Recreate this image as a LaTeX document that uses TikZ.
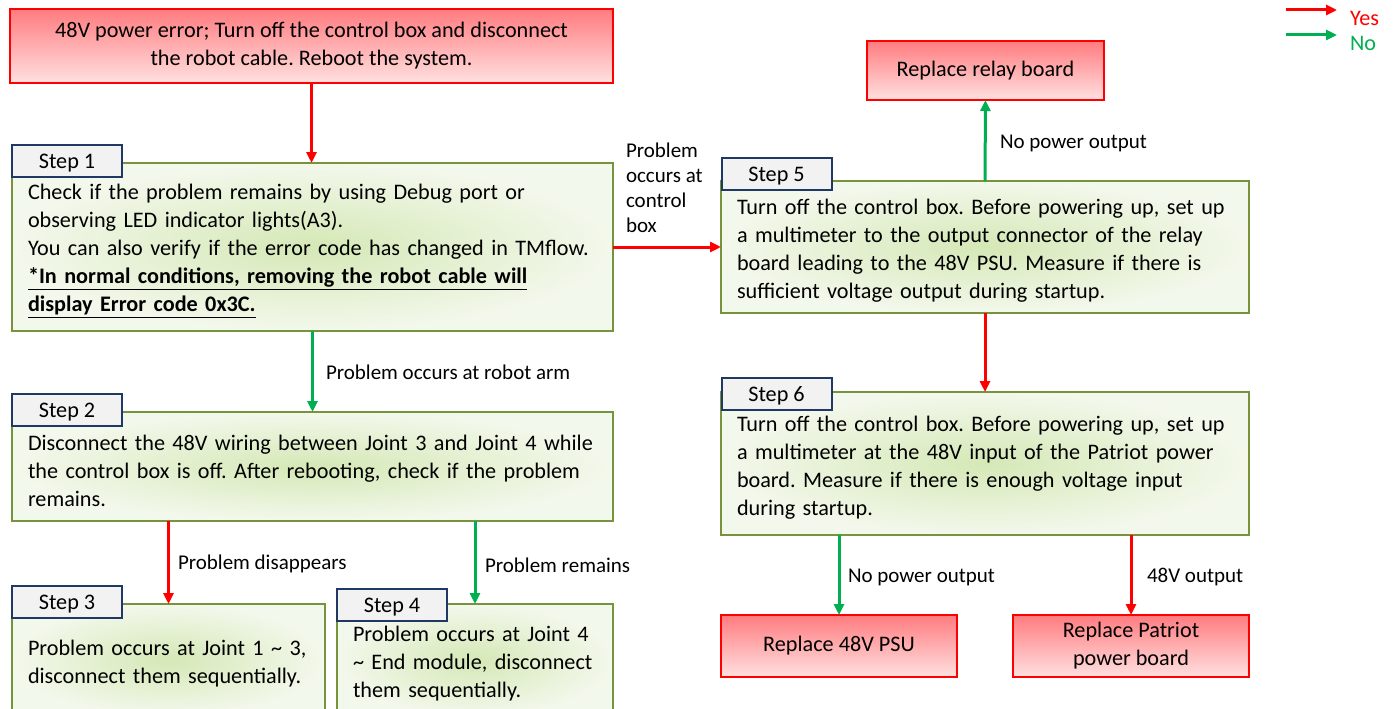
\documentclass[tikz,border=0pt]{standalone}
\usepackage{fontspec}
\setmainfont{Carlito}
\usetikzlibrary{arrows.meta}
\definecolor{myred}{HTML}{FF0000}
\definecolor{mygreen}{HTML}{00B050}
\definecolor{boxgreen}{HTML}{77933C}
\definecolor{tabblue}{HTML}{1F3864}
\definecolor{tabfill}{HTML}{F2F2F2}
\definecolor{redtop}{HTML}{FF7C80}
\definecolor{redbot}{HTML}{FFE0E0}
\definecolor{greenin}{HTML}{D5E8B6}
\definecolor{greenout}{HTML}{F3F8EC}
\newcommand\Ln[1]{\mbox{#1}}
\newcommand\TailSpace{\endgraf\vspace*{-8pt}}
\frenchspacing
\begin{document}
\begin{tikzpicture}[x=1pt,y=-1pt,
  every node/.style={inner sep=0pt,outer sep=0pt},
  txt/.style={font=\fontsize{22.2}{28}\selectfont},
  lbl/.style={font=\fontsize{21}{25}\selectfont,anchor=west,align=left},
  redbox/.style={txt,draw=myred,line width=2pt,top color=redtop,bottom color=redbot,align=center},
  stepbox/.style={txt,draw=boxgreen,line width=2pt,inner color=greenin,outer color=greenout,align=left,inner xsep=16pt,
    execute at end node=\TailSpace},
  tabbox/.style={txt,draw=tabblue,line width=2pt,fill=tabfill,minimum width=110pt,minimum height=32pt,
    text height=16pt,text depth=2pt},
  yes/.style={draw=myred,line width=3pt,-{Triangle[length=11pt,width=10pt]}},
  no/.style={draw=mygreen,line width=3pt,-{Triangle[length=11pt,width=10pt]}}]
\useasboundingbox (0,0) rectangle (1400,709);
\clip (0,0) rectangle (1400,709);

% red boxes
\node[redbox,minimum width=603pt,minimum height=73pt] (top) at (311.5,46)
  {48V power error; Turn off the control box and disconnect\\the robot cable. Reboot the system.};
\node[redbox,minimum width=237pt,minimum height=59pt] (relay) at (985.5,70.5) {Replace relay board};
\node[redbox,minimum width=236pt,minimum height=62pt] (psu) at (839,646) {Replace 48V PSU};
\node[redbox,minimum width=236pt,minimum height=62pt] (pat) at (1131,646) {Replace Patriot\\power board};

% step boxes
\node[stepbox,text width=569pt,minimum height=168pt] (s1) at (312.5,247)
  {\Ln{Check if the problem remains by using Debug port or}\\
   \Ln{observing LED indicator lights(A3).}\\
   \Ln{You can also verify if the error code has changed in TMflow.}\\
   \Ln{\textbf{\underline{*In normal conditions, removing the robot cable will}}}\\
   \Ln{\textbf{\underline{display Error code 0x3C.}}}};
\node[tabbox] (t1) at (67,161) {Step 1};

\node[stepbox,text width=569pt,minimum height=109pt] (s2) at (312.5,466.5)
  {\Ln{Disconnect the 48V wiring between Joint 3 and Joint 4 while}\\
   \Ln{the control box is off. After rebooting, check if the problem}\\
   \Ln{remains.}};
\node[tabbox] (t2) at (67,410) {Step 2};

\node[stepbox,text width=281pt,minimum height=112pt] (s3) at (168.5,660)
  {\Ln{Problem occurs at Joint 1 \textasciitilde{} 3,}\\
   \Ln{disconnect them sequentially.}};
\node[tabbox] (t3) at (67,602) {Step 3};

\node[stepbox,text width=244pt,minimum height=112pt] (s4) at (475,660)
  {\Ln{Problem occurs at Joint 4}\\
   \Ln{\textasciitilde{} End module, disconnect}\\
   \Ln{them sequentially.}};
\node[tabbox] (t4) at (392,605) {Step 4};

\node[stepbox,text width=496pt,minimum height=132pt] (s5) at (985,247)
  {\Ln{Turn off the control box. Before powering up, set up}\\
   \Ln{a multimeter to the output connector of the relay}\\
   \Ln{board leading to the 48V PSU. Measure if there is}\\
   \Ln{sufficient voltage output during startup.}};
\node[tabbox] (t5) at (776.5,174) {Step 5};

\node[stepbox,text width=496pt,minimum height=143pt] (s6) at (985,463.5)
  {\Ln{Turn off the control box. Before powering up, set up}\\
   \Ln{a multimeter at the 48V input of the Patriot power}\\
   \Ln{board. Measure if there is enough voltage input}\\
   \Ln{during startup.}};
\node[tabbox] (t6) at (776.5,394) {Step 6};

% connectors
\draw[yes] (top.south) -- (top.south |- s1.north);
\draw[no] (s1.south) -- (s1.south |- s2.north);
\draw[yes] (s1.east) -- (s5.west);
\draw[yes] (s2.south -| s3.north) -- (s3.north);
\draw[no] (s2.south -| s4.north) -- (s4.north);
\draw[no] (s5.north) -- (relay.south);
\draw[yes] (s5.south) -- (s6.north);
\draw[no] (s6.south -| psu.north) -- (psu.north);
\draw[yes] (s6.south -| pat.north) -- (pat.north);

% labels
\node[lbl] (l1) at (626,188) {Problem\\occurs at\\control\\box};
\node[lbl] (l2) at (326,372) {Problem occurs at robot arm};
\node[lbl] (l3) at (178,564) {Problem disappears};
\node[lbl] (l4) at (485,565) {Problem remains};
\node[lbl] (l5) at (1000,143) {No power output};
\node[lbl] (l6) at (848,577) {No power output};
\node[lbl] (l7) at (1147,577) {48V output};

% legend
\coordinate (ya) at (1286,10);
\coordinate (yb) at (1337,10);
\coordinate (na) at (1286,35);
\coordinate (nb) at (1337,35);
\draw[yes] (ya) -- (yb);
\draw[no] (na) -- (nb);
\node[txt,anchor=west,text=myred] (lyes) at (1350,18) {Yes};
\node[txt,anchor=west,text=mygreen] (lno) at (1350,43) {No};
\end{tikzpicture}
\end{document}
